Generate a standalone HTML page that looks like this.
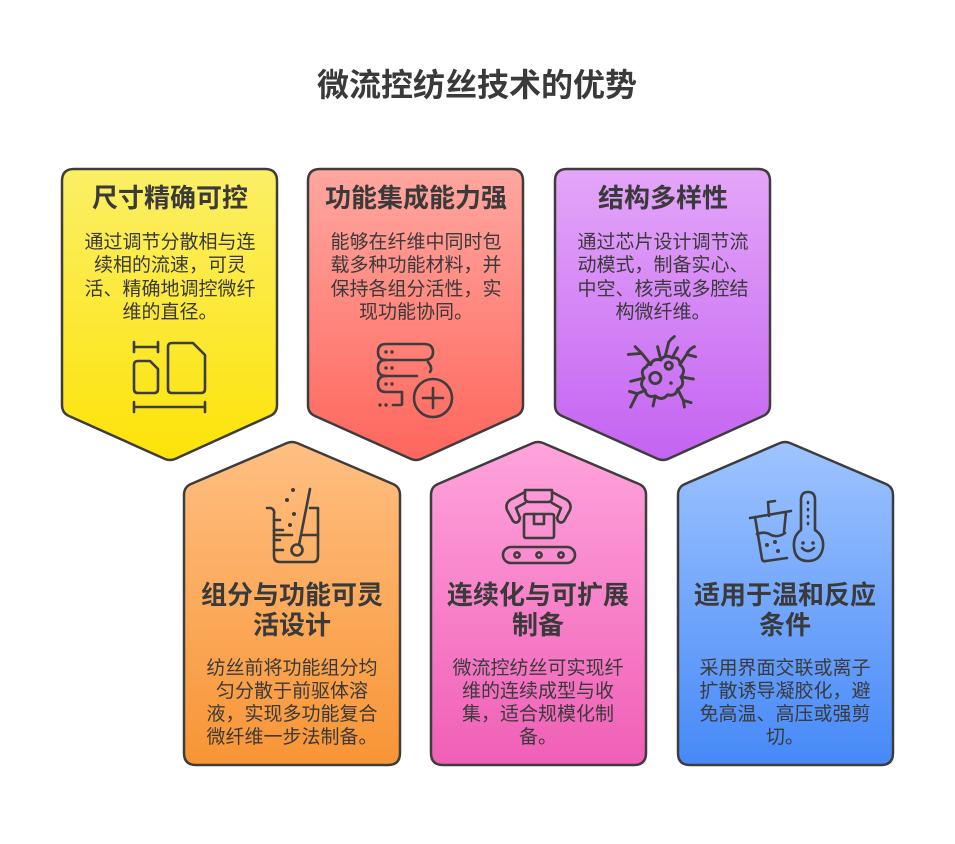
<!DOCTYPE html>
<html><head><meta charset="utf-8"><style>
html,body{margin:0;padding:0;background:#fff;}
svg{display:block;}
text{font-family:"Liberation Sans","Noto Sans CJK SC",sans-serif;fill:#3a3a3a;text-anchor:middle;}
.h{font-size:26px;font-weight:bold;}
.b{font-size:19px;}
.ic{fill:none;stroke:#3d3d3d;stroke-width:2.6;stroke-linecap:round;stroke-linejoin:round;}
.card{stroke:#3d3d3d;stroke-width:2.5;stroke-linejoin:round;}
</style></head><body>
<svg width="955" height="844" viewBox="0 0 955 844" xmlns="http://www.w3.org/2000/svg">
<defs>
<linearGradient id="gy" x1="0" y1="0" x2="0" y2="1"><stop offset="0" stop-color="#fbef66"/><stop offset="1" stop-color="#fde308"/></linearGradient>
<linearGradient id="gr" x1="0" y1="0" x2="0" y2="1"><stop offset="0" stop-color="#ffa7a0"/><stop offset="1" stop-color="#ff665c"/></linearGradient>
<linearGradient id="gp" x1="0" y1="0" x2="0" y2="1"><stop offset="0" stop-color="#e4a6f9"/><stop offset="1" stop-color="#c463f2"/></linearGradient>
<linearGradient id="go" x1="0" y1="0" x2="0" y2="1"><stop offset="0" stop-color="#ffbf82"/><stop offset="1" stop-color="#f89535"/></linearGradient>
<linearGradient id="gk" x1="0" y1="0" x2="0" y2="1"><stop offset="0" stop-color="#ffa4dc"/><stop offset="1" stop-color="#f05fb6"/></linearGradient>
<linearGradient id="gb" x1="0" y1="0" x2="0" y2="1"><stop offset="0" stop-color="#9fc4ff"/><stop offset="1" stop-color="#4689f8"/></linearGradient>
</defs>

<text x="477" y="96" style="font-size:32px;font-weight:bold;">微流控纺丝技术的优势</text>

<path class="card" fill="url(#gy)" d="M74,169 H265 Q277,169 277,181 V405 Q277,413 270,416 L175,459 Q170,461 165,459 L69,416 Q62,413 62,405 V181 Q62,169 74,169 Z"/>
<path class="card" fill="url(#gr)" d="M320,169 H511 Q523,169 523,181 V405 Q523,413 516,416 L421,459 Q416,461 411,459 L315,416 Q308,413 308,405 V181 Q308,169 320,169 Z"/>
<path class="card" fill="url(#gp)" d="M567,169 H758 Q770,169 770,181 V405 Q770,413 763,416 L668,459 Q663,461 658,459 L562,416 Q555,413 555,405 V181 Q555,169 567,169 Z"/>

<path class="card" fill="url(#go)" d="M196,765 H388 Q400,765 400,753 V495 Q400,487 393,484 L297,443 Q292,441 287,443 L191,484 Q184,487 184,495 V753 Q184,765 196,765 Z"/>
<path class="card" fill="url(#gk)" d="M443,765 H634 Q646,765 646,753 V495 Q646,487 639,484 L543,443 Q538,441 533,443 L438,484 Q431,487 431,495 V753 Q431,765 443,765 Z"/>
<path class="card" fill="url(#gb)" d="M690,765 H881 Q893,765 893,753 V495 Q893,487 886,484 L790,443 Q785,441 780,443 L685,484 Q678,487 678,495 V753 Q678,765 690,765 Z"/>

<text class="h" x="170" y="207">尺寸精确可控</text>
<text class="b" x="170" y="248">通过调节分散相与连</text>
<text class="b" x="170" y="271">续相的流速，可灵</text>
<text class="b" x="170" y="295">活、精确地调控微纤</text>
<text class="b" x="170" y="318">维的直径。</text>
<g class="ic">
<path d="M134,347 H158 M134,342 V352 M158,342 V352"/>
<path d="M138,361 H150 L158,369 V389 Q158,393 154,393 H138 Q134,393 134,389 V365 Q134,361 138,361 Z"/>
<path d="M172,343 H193 L205,355 V389 Q205,393 201,393 H172 Q168,393 168,389 V347 Q168,343 172,343 Z"/>
<path d="M134,407 H205 M134,402 V412 M205,402 V412"/>
</g>

<text class="h" x="416" y="207">功能集成能力强</text>
<text class="b" x="416" y="248">能够在纤维中同时包</text>
<text class="b" x="416" y="271">载多种功能材料，并</text>
<text class="b" x="416" y="295">保持各组分活性，实</text>
<text class="b" x="416" y="318">现功能协同。</text>
<g class="ic">
<path d="M386,344 H424 Q433,344 433,352 Q433,360 424,360 H386 Q378,360 378,352 Q378,344 386,344 Z"/>
<path d="M386,360 Q378,360 378,368 Q378,376 386,376 H417 M430,372 Q433,368 428,362"/>
<path d="M386,376 Q378,376 378,384 Q378,392 386,392 H402 M402,392 V404 Q402,405 400,405 H393"/>
<circle cx="433" cy="398" r="19"/>
<path d="M433,388 V408 M423,398 H443"/>
</g>
<g fill="#3d3d3d"><circle cx="386" cy="352" r="1.7"/><circle cx="392" cy="352" r="1.7"/><circle cx="386" cy="368" r="1.7"/><circle cx="392" cy="368" r="1.7"/><circle cx="386" cy="384" r="1.7"/><circle cx="392" cy="384" r="1.7"/><circle cx="380" cy="405" r="1.7"/><circle cx="386" cy="405" r="1.7"/></g>

<text class="h" x="663" y="207">结构多样性</text>
<text class="b" x="663" y="248">通过芯片设计调节流</text>
<text class="b" x="663" y="271">动模式，制备实心、</text>
<text class="b" x="663" y="295">中空、核壳或多腔结</text>
<text class="b" x="663" y="318">构微纤维。</text>
<g class="ic" transform="translate(662,378) scale(1.12) translate(-662,-378)">
<path d="M652,366 Q654,360 661,362 Q665,356 671,360 Q678,359 678,366 Q684,371 679,377 Q683,385 676,388 Q674,395 667,393 Q662,399 656,394 Q648,396 647,389 Q641,384 646,378 Q642,371 648,368 Q649,365 652,366 Z"/>
<circle cx="656" cy="378" r="5"/><circle cx="668" cy="367" r="3.2"/>
<path d="M652,366 L644,356 L632,357 M644,356 L638,350 M661,362 L658,350 M665,358 L668,346 Q670,343 673,341 M671,360 L676,351 M678,366 L684,357 Q686,352 691,350 M684,357 L692,359"/>
<path d="M646,378 L634,381 M647,389 L640,392 Q637,398 634,404 M640,392 L633,390 M656,394 L654,403 M676,388 L681,398 M681,398 L688,400 M681,398 L682,404 M679,377 L690,379"/>
</g>
<circle cx="671" cy="383" r="1.8" fill="#3d3d3d"/>

<text class="h" x="292" y="604">组分与功能可灵</text>
<text class="h" x="292" y="634">活设计</text>
<text class="b" x="292" y="674">纺丝前将功能组分均</text>
<text class="b" x="292" y="697">匀分散于前驱体溶</text>
<text class="b" x="292" y="720">液，实现多功能复合</text>
<text class="b" x="292" y="743">微纤维一步法制备。</text>
<g class="ic">
<path d="M267,508 H271 Q275,510 274,514 V556 Q274,562 280,562 H313 Q318,562 318,556 V508 H310"/>
<path d="M274,520 H280 M274,530 H283 M274,540 H280 M274,550 H283 M274,535 H292 M303,535 H318"/>
<path d="M310,489 L299,545"/>
<circle cx="297" cy="550" r="5.5"/>
</g>
<g fill="#3d3d3d"><circle cx="293" cy="490" r="2"/><circle cx="287" cy="500" r="2"/><circle cx="294" cy="514" r="2"/><circle cx="290" cy="525" r="2"/></g>

<text class="h" x="538" y="604">连续化与可扩展</text>
<text class="h" x="538" y="634">制备</text>
<text class="b" x="538" y="674">微流控纺丝可实现纤</text>
<text class="b" x="538" y="697">维的连续成型与收</text>
<text class="b" x="538" y="720">集，适合规模化制</text>
<text class="b" x="538" y="743">备。</text>
<g class="ic">
<rect x="503" y="547" width="72" height="16" rx="8"/>
<circle cx="517" cy="555" r="2.6"/><circle cx="539" cy="555" r="2.6"/><circle cx="561" cy="555" r="2.6"/>
<rect x="524" y="514" width="30" height="24" rx="2"/>
<path d="M534,514 V524 H544 V514"/>
<path d="M525,490 H552 V498 Q552,502 548,502 H530 Q525,502 525,498 Z"/>
<path d="M525,492 L510,500 Q505,504 507,510 L513,521 Q516,524 519,521 L520,518 L516,508 L525,503"/>
<path d="M552,492 L567,500 Q572,504 570,510 L564,521 Q561,524 558,521 L557,518 L561,508 L552,503"/>
</g>

<text class="h" x="785" y="604">适用于温和反应</text>
<text class="h" x="785" y="634">条件</text>
<text class="b" x="785" y="674">采用界面交联或离子</text>
<text class="b" x="785" y="697">扩散诱导凝胶化，避</text>
<text class="b" x="785" y="720">免高温、高压或强剪</text>
<text class="b" x="785" y="743">切。</text>
<g class="ic">
<path d="M750,518 L791,511 M755,517 L762,559 Q763,562 766,561 L787,558 M786,512 L784,532"/>
<path d="M757,534 Q765,531 771,535 Q778,538 785,533"/>
<path d="M769,516 L768,502 L775,501"/>
<path d="M801,530 V500 Q801,492 808,492 Q815,492 815,500 V530 Q824,536 823,547 Q821,561 808,561 Q795,561 794,547 Q793,536 801,530 Z"/>
<path d="M808,502 V503 M808,509 V510 M808,516 V517 M808,523 V524 M802,548 Q808,554 814,548"/>
</g>
<g fill="#3d3d3d"><circle cx="767" cy="545" r="2"/><circle cx="775" cy="542" r="2"/><circle cx="778" cy="551" r="2"/><circle cx="803" cy="543" r="1.8"/><circle cx="813" cy="543" r="1.8"/></g>
</svg>
</body></html>
